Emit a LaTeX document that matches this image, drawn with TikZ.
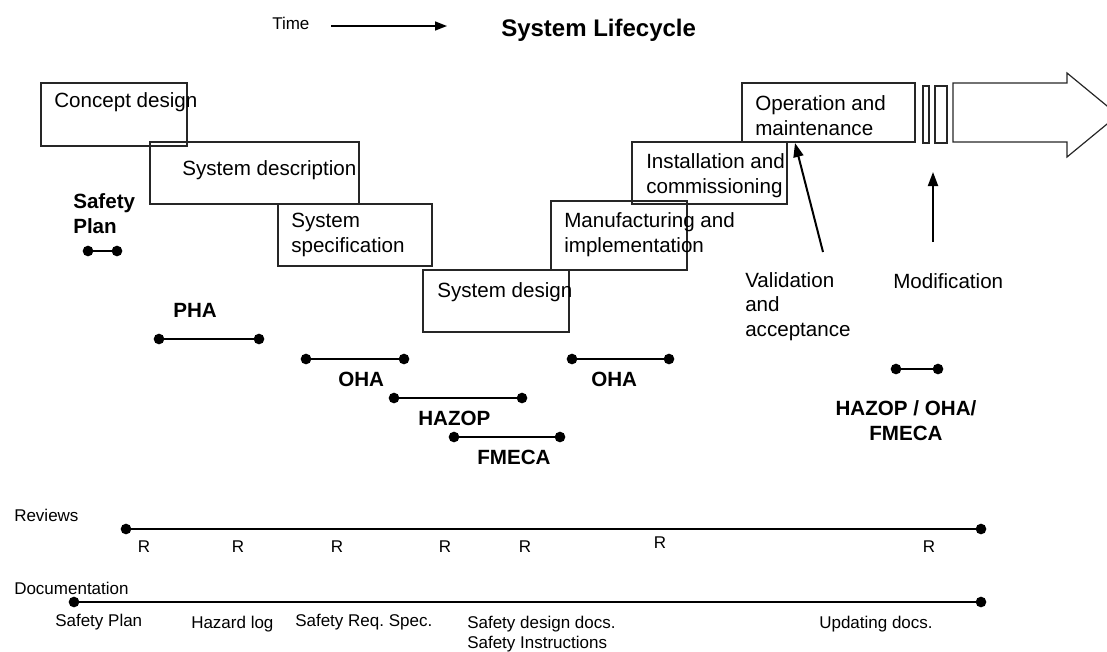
\documentclass[tikz,border=0pt]{standalone}
\usepackage{fontspec}
\setmainfont{Liberation Sans}
\usetikzlibrary{arrows.meta,calc}
\frenchspacing
% a phase box given by its corners (in px units of the picture)
\newcommand{\phasebox}[5]{%
  \node[box, minimum width={(#4-#2)*0.75pt}, minimum height={(#5-#3)*0.75pt}]
    (#1) at ({(#2+#4)/2},{(#3+#5)/2}) {};}
\begin{document}
\begin{tikzpicture}[x=0.75pt,y=-0.75pt,
  box/.style={draw=black!85, line width=0.9pt, inner sep=0pt, outer sep=0pt},
  lbl/.style={inner sep=0pt, font=\fontsize{15.45}{18.2}\selectfont, align=left},
  blbl/.style={inner sep=0pt, font=\fontsize{15.45}{18.2}\selectfont\bfseries, align=left},
  small/.style={inner sep=0pt, font=\fontsize{12.75}{15}\selectfont, align=left},
  dot/.style={circle, fill=black, inner sep=0pt, outer sep=0pt, minimum size=8pt},
  bar/.style={line width=1.5pt},
  track/.style={line width=1.7pt},
  ptr/.style={line width=1.5pt, -{Triangle[length=10.5pt,width=7.5pt]}},
  thinptr/.style={line width=1.1pt, -{Triangle[length=9pt,width=6.75pt]}},
]
\useasboundingbox (0,0) rectangle (1107,651);

% heading
\node[small, anchor=base west] (time) at (272,29) {Time};
\coordinate (t0) at (331,26);
\coordinate (t1) at (447,26);
\draw[thinptr] (t0) -- (t1);
\node[inner sep=0pt, anchor=base west, font=\fontsize{18}{20}\selectfont\bfseries]
  (title) at (501,36) {System Lifecycle};

% lifecycle phases
\phasebox{concept}{41}{83}{187}{146}
\phasebox{desc}{150}{142}{359}{204}
\phasebox{spec}{278}{204}{432}{266}
\phasebox{sysdes}{423}{270}{569}{332}
\phasebox{manuf}{551}{201}{687}{270}
\phasebox{install}{632}{142}{787}{204}
\phasebox{oper}{742}{83}{915}{142}
\phasebox{barA}{923}{86}{929}{143}
\phasebox{barB}{935}{86}{947}{143}

% phase names (anchored on the baseline of their last line)
\node[lbl, anchor=base west] (concepttxt) at (54,107) {Concept design};
\node[lbl, anchor=base west] (desctxt) at (182,175) {System description};
\node[lbl, anchor=base west] (spectxt) at (291,252) {System\\specification};
\node[lbl, anchor=base west] (sysdestxt) at (437,297) {System design};
\node[lbl, anchor=base west] (manuftxt) at (564,252) {Manufacturing and\\implementation};
\node[lbl, anchor=base west] (installtxt) at (646,193) {Installation and\\commissioning};
\node[lbl, anchor=base west] (opertxt) at (755,135) {Operation and\\maintenance};

% the open-ended life arrow
\begin{scope}
  \clip (0,0) rectangle (1107,651);
  \draw[box] (953,83) -- (1067,83) -- (1067,73) -- (1118,115) -- (1067,157)
    -- (1067,142) -- (953,142) -- cycle;
\end{scope}

% validation and modification
\node[lbl, anchor=base west] (valtxt) at (745,336) {Validation\\and\\acceptance};
\node[lbl, anchor=base west] (modtxt) at (893,288) {Modification};
\coordinate (valtail) at (823,252);
\draw[ptr] (valtail) -- ($(oper.south west)+(53,1)$);
\coordinate (modtail) at (933,242);
\coordinate (modhead) at (933,172);
\draw[ptr] (modtail) -- (modhead);

% analyses
\node[blbl, anchor=base west] (sptxt) at (73,233) {Safety\\Plan};
\node[dot] (sp1) at (88,251) {};
\node[dot] (sp2) at (117,251) {};
\draw[bar] (sp1) -- (sp2);

\node[blbl, anchor=base west] (phatxt) at (173,317) {PHA};
\node[dot] (pha1) at (159,339) {};
\node[dot] (pha2) at (259,339) {};
\draw[bar] (pha1) -- (pha2);

\node[dot] (oha1) at (306,359) {};
\node[dot] (oha2) at (404,359) {};
\draw[bar] (oha1) -- (oha2);
\node[blbl, anchor=base west] (ohatxt) at (338,386) {OHA};

\node[dot] (haz1) at (394,398) {};
\node[dot] (haz2) at (522,398) {};
\draw[bar] (haz1) -- (haz2);
\node[blbl, anchor=base west] (haztxt) at (418,425) {HAZOP};

\node[dot] (fme1) at (454,437) {};
\node[dot] (fme2) at (560,437) {};
\draw[bar] (fme1) -- (fme2);
\node[blbl, anchor=base west] (fmetxt) at (477,464) {FMECA};

\node[dot] (ohb1) at (572,359) {};
\node[dot] (ohb2) at (669,359) {};
\draw[bar] (ohb1) -- (ohb2);
\node[blbl, anchor=base west] (ohbtxt) at (591,386) {OHA};

\node[dot] (mix1) at (896,369) {};
\node[dot] (mix2) at (938,369) {};
\draw[bar] (mix1) -- (mix2);
\node[blbl, anchor=base, align=center] (mixtxt) at (906,440) {HAZOP / OHA/\\FMECA};

% reviews
\node[small, anchor=base west] (revtxt) at (14,521) {Reviews};
\node[dot] (rev1) at (126,529) {};
\node[dot] (rev2) at (981,529) {};
\draw[track] (rev1) -- (rev2);
\foreach \rx/\ry [count=\i] in {144/552,238/552,337/552,445/552,525/552,660/548,929/552}
  \node[small, anchor=base] (r\i) at (\rx,\ry) {R};

% documentation
\node[small, anchor=base west] (doctxt) at (14,594) {Documentation};
\node[dot] (doc1) at (74,602) {};
\node[dot] (doc2) at (981,602) {};
\draw[track] (doc1) -- (doc2);
\node[small, anchor=base west] (d1) at (55,626) {Safety Plan};
\node[small, anchor=base west] (d2) at (191,628) {Hazard log};
\node[small, anchor=base west] (d3) at (295,626) {Safety Req. Spec.};
\node[small, anchor=base west] (d4) at (467,648) {Safety design docs.\\Safety Instructions};
\node[small, anchor=base west] (d5) at (819,628) {Updating docs.};
\end{tikzpicture}
\end{document}
